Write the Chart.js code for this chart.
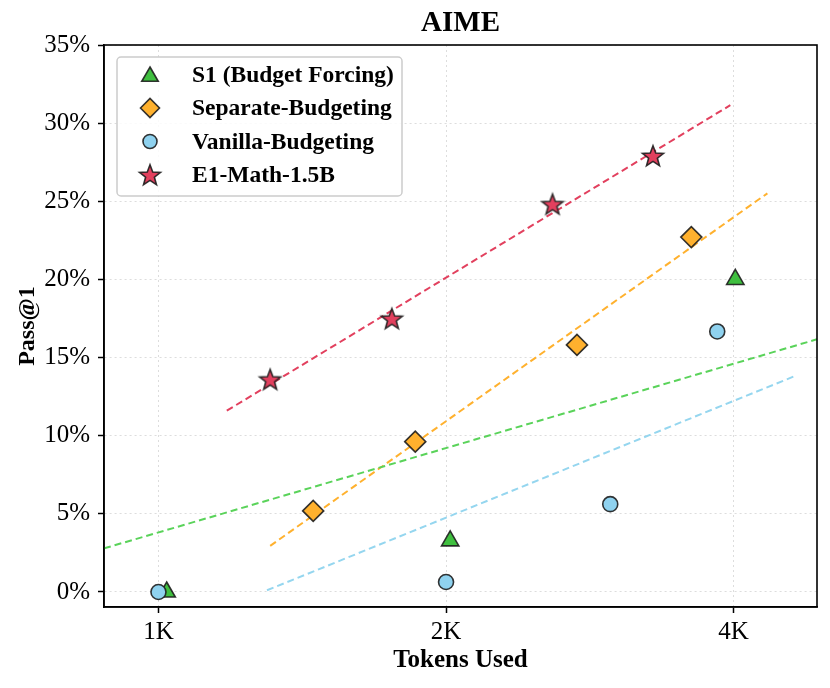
<!DOCTYPE html>
<html>
<head>
<meta charset="utf-8">
<script src="https://cdn.jsdelivr.net/npm/chart.js@4.4.1/dist/chart.umd.min.js"></script>
<style>
  html, body { margin: 0; padding: 0; background: #ffffff; }
  #wrap { width: 830px; height: 688px; position: relative; }
</style>
</head>
<body>
<div id="wrap"><canvas id="c" width="830" height="688"></canvas></div>
<script>
// ---- data (tokens used, Pass@1 in %) ----
const chartTitle = 'AIME';
const xTickValues = [1000, 2000, 4000];
const xTickLabels = ['1K', '2K', '4K'];
const yTickValues = [0, 5, 10, 15, 20, 25, 30, 35];

const seriesNames = ['S1 (Budget Forcing)', 'Separate-Budgeting', 'Vanilla-Budgeting', 'E1-Math-1.5B'];

const s1Tokens = [1020, 2020, 4016];
const s1Pass = [0.0, 3.27, 20.0];

const sepTokens = [1452, 1857, 2742, 3612];
const sepPass = [5.19, 9.62, 15.81, 22.71];

const vanTokens = [1000, 2000, 2971, 3845];
const vanPass = [0.0, 0.64, 5.62, 16.67];

const e1Tokens = [1309, 1755, 2585, 3293];
const e1Pass = [13.59, 17.48, 24.81, 27.9];

// fitted trend lines (endpoints)
const s1TrendTokens = [877, 4890];
const s1TrendPass = [2.79, 16.17];
const sepTrendTokens = [1309, 4339];
const sepTrendPass = [2.95, 25.51];
const vanTrendTokens = [1299, 4620];
const vanTrendPass = [0.11, 13.78];
const e1TrendTokens = [1179, 3968];
const e1TrendPass = [11.6, 31.15];

const xMin = 877, xMax = 4890;
const yMin = -0.96, yMax = 35;

// ---- styles ----
const SERIF = '"Liberation Serif", "Times New Roman", serif';
const colors = {
  s1: '#3fbf3f', s1Line: '#5ad35a',
  sep: '#ffb12e', sepLine: '#ffb12e',
  van: '#8fd2ef', vanLine: '#95d6ef',
  e1: '#e2405e', e1Line: '#e2405e'
};
const edge = 'rgba(30,30,30,0.9)';

function makeStar(r, fill) {
  const pad = 2;
  const size = Math.ceil(2 * r + 2 * pad);
  const cv = document.createElement('canvas');
  cv.width = size; cv.height = size;
  const g = cv.getContext('2d');
  const cx = size / 2, cy = size / 2 + 0.8;
  const inner = r * 0.42;
  g.beginPath();
  for (let i = 0; i < 10; i++) {
    const ang = -Math.PI / 2 + i * Math.PI / 5;
    const rr = i % 2 === 0 ? r : inner;
    const px = cx + rr * Math.cos(ang), py = cy + rr * Math.sin(ang);
    if (i === 0) g.moveTo(px, py); else g.lineTo(px, py);
  }
  g.closePath();
  g.fillStyle = fill; g.fill();
  g.lineWidth = 1.6; g.lineJoin = 'miter'; g.strokeStyle = edge; g.stroke();
  return cv;
}
const starImg = makeStar(11, colors.e1);

function pts(xs, ys) { return xs.map((x, i) => ({ x: x, y: ys[i] })); }

const markerDefs = [
  { style: 'triangle', radius: 10, fill: colors.s1 },
  { style: 'rectRot', radius: 10.5, fill: colors.sep },
  { style: 'circle', radius: 7.5, fill: colors.van },
  { style: starImg, radius: 11, fill: colors.e1 }
];

function pointDs(name, xs, ys, m, order) {
  return {
    label: name, data: pts(xs, ys), order: order,
    pointStyle: m.style, pointRadius: m.radius, pointHoverRadius: m.radius,
    backgroundColor: m.fill, borderColor: edge, borderWidth: 1.6,
    showLine: false
  };
}
function trendDs(xs, ys, color) {
  return {
    label: '_trend', data: pts(xs, ys), order: 10,
    showLine: true, pointRadius: 0, pointHoverRadius: 0,
    borderColor: color, borderWidth: 2, borderDash: [7, 4],
    fill: false, tension: 0
  };
}

const frameAndLegend = {
  id: 'frameAndLegend',
  afterDatasetsDraw(chart) {
    const ctx = chart.ctx, a = chart.chartArea;
    ctx.save();
    // frame
    ctx.strokeStyle = '#000'; ctx.lineWidth = 1.6;
    ctx.strokeRect(a.left, a.top, a.right - a.left, a.bottom - a.top);
    // title, centred over the plot area
    ctx.fillStyle = '#000';
    ctx.font = 'bold 29px ' + SERIF;
    ctx.textAlign = 'center'; ctx.textBaseline = 'middle';
    ctx.fillText(chartTitle, (a.left + a.right) / 2, 24);
    // legend box
    const bx = 117, by = 57, bw = 285, bh = 139, r = 4;
    ctx.beginPath();
    ctx.moveTo(bx + r, by);
    ctx.lineTo(bx + bw - r, by); ctx.arcTo(bx + bw, by, bx + bw, by + r, r);
    ctx.lineTo(bx + bw, by + bh - r); ctx.arcTo(bx + bw, by + bh, bx + bw - r, by + bh, r);
    ctx.lineTo(bx + r, by + bh); ctx.arcTo(bx, by + bh, bx, by + bh - r, r);
    ctx.lineTo(bx, by + r); ctx.arcTo(bx, by, bx + r, by, r);
    ctx.closePath();
    ctx.fillStyle = 'rgba(255,255,255,0.85)'; ctx.fill();
    ctx.strokeStyle = '#cccccc'; ctx.lineWidth = 1.5; ctx.stroke();
    // entries
    const rowY = [75, 108, 141.5, 175];
    const legendRadius = [9.5, 9.5, 7, 11];
    ctx.font = 'bold 23.5px ' + SERIF;
    ctx.textBaseline = 'middle'; ctx.textAlign = 'left';
    for (let i = 0; i < seriesNames.length; i++) {
      const m = markerDefs[i];
      ctx.fillStyle = m.fill; ctx.strokeStyle = edge; ctx.lineWidth = 1.6;
      Chart.helpers.drawPoint(ctx, { pointStyle: m.style, radius: legendRadius[i], rotation: 0, borderWidth: 1.6 }, 150, rowY[i] + (i === 0 ? 1.5 : 0));
      ctx.fillStyle = '#000';
      ctx.fillText(seriesNames[i], 192, rowY[i] + 1);
    }
    ctx.restore();
  }
};

new Chart(document.getElementById('c'), {
  type: 'scatter',
  data: {
    datasets: [
      pointDs(seriesNames[0], s1Tokens, s1Pass, markerDefs[0], 4),
      pointDs(seriesNames[1], sepTokens, sepPass, markerDefs[1], 3),
      pointDs(seriesNames[2], vanTokens, vanPass, markerDefs[2], 2),
      pointDs(seriesNames[3], e1Tokens, e1Pass, markerDefs[3], 1),
      trendDs(s1TrendTokens, s1TrendPass, colors.s1Line),
      trendDs(sepTrendTokens, sepTrendPass, colors.sepLine),
      trendDs(vanTrendTokens, vanTrendPass, colors.vanLine),
      trendDs(e1TrendTokens, e1TrendPass, colors.e1Line)
    ]
  },
  options: {
    responsive: false, animation: false,
    layout: { padding: { left: 0, right: 13, top: 45, bottom: 0 } },
    plugins: {
      legend: { display: false },
      tooltip: { enabled: false },
      title: { display: false }
    },
    scales: {
      x: {
        type: 'logarithmic', min: xMin, max: xMax,
        afterBuildTicks(s) { s.ticks = xTickValues.map(v => ({ value: v })); },
        afterFit(s) { s.height = 81; },
        ticks: {
          autoSkip: false, maxRotation: 0, color: '#000', padding: 4,
          font: { family: SERIF, size: 25 },
          callback(v) { const i = xTickValues.indexOf(v); return i >= 0 ? xTickLabels[i] : ''; }
        },
        grid: { color: '#dddddd', lineWidth: 1, tickColor: '#000', tickLength: 6, tickWidth: 1.5, tickBorderDash: [] },
        border: { display: true, color: '#000', width: 1.6, dash: [2, 3] },
        title: {
          display: true, text: 'Tokens Used', color: '#000',
          font: { family: SERIF, size: 25, weight: 'bold', lineHeight: 1.2 },
          padding: { top: 0, bottom: 12 }
        }
      },
      y: {
        type: 'linear', min: yMin, max: yMax,
        afterBuildTicks(s) { s.ticks = yTickValues.map(v => ({ value: v })); },
        afterFit(s) { s.width = 104; },
        ticks: {
          color: '#000', padding: 8,
          font: { family: SERIF, size: 25 },
          callback(v) { return v + '%'; }
        },
        grid: { color: '#dddddd', lineWidth: 1, tickColor: '#000', tickLength: 6, tickWidth: 1.5, tickBorderDash: [] },
        border: { display: true, color: '#000', width: 1.6, dash: [2, 3] },
        title: {
          display: true, text: 'Pass@1', color: '#000',
          font: { family: SERIF, size: 24, weight: 'bold', lineHeight: 1.2 },
          padding: { top: 13, bottom: 0 }
        }
      }
    }
  },
  plugins: [frameAndLegend]
});
</script>
</body>
</html>
